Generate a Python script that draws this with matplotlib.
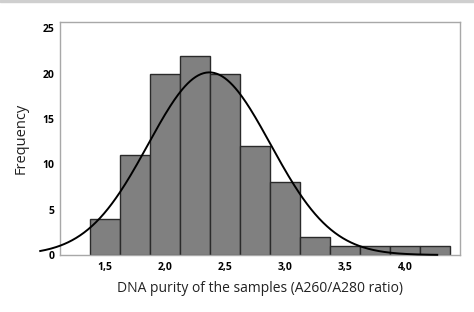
import numpy as np
import matplotlib.pyplot as plt
import matplotlib.patches as mpatches

# histogram of DNA purity (A260/A280)
bin_edges = [1.375, 1.625, 1.875, 2.125, 2.375, 2.625, 2.875, 3.125, 3.375, 3.625, 3.875, 4.125, 4.375]
counts = [4, 11, 20, 22, 20, 12, 8, 2, 1, 1, 1, 1]
x_ticks = [1.5, 2.0, 2.5, 3.0, 3.5, 4.0]
x_tick_labels = ['1,5', '2,0', '2,5', '3,0', '3,5', '4,0']
y_ticks = [0, 5, 10, 15, 20, 25]

# fitted normal curve parameters
fit_mean = 2.37
fit_sd = 0.51
curve_range = (0.96, 4.27)

plt.rcParams['font.family'] = ['Open Sans', 'DejaVu Sans']

fig = plt.figure(figsize=(4.74, 3.12), dpi=100)
ax = fig.add_axes([0.1266, 0.1827, 0.8439, 0.7468])

widths = np.diff(bin_edges)
ax.bar(bin_edges[:-1], counts, width=widths, align='edge',
       color='#808080', edgecolor='#2a2a2a', linewidth=1.0, zorder=2)

n = sum(counts)
bw = widths[0]
xs = np.linspace(curve_range[0], curve_range[1], 300)
ys = n * bw / (fit_sd * np.sqrt(2 * np.pi)) * np.exp(-0.5 * ((xs - fit_mean) / fit_sd) ** 2)
ax.plot(xs, ys, color='black', linewidth=1.4, clip_on=False, zorder=3)

ax.set_xlim(1.125, 4.46)
ax.set_ylim(0, 25.7)
ax.set_xticks(x_ticks)
ax.set_xticklabels(x_tick_labels, fontsize=7.5, fontweight='bold')
ax.set_yticks(y_ticks)
ax.set_yticklabels([str(v) for v in y_ticks], fontsize=7.5, fontweight='bold')
ax.tick_params(axis='x', length=0, pad=5)
ax.tick_params(axis='y', length=0, pad=4)

for s in ax.spines.values():
    s.set_color('#a8a8a8')
    s.set_linewidth(1.0)

ax.set_xlabel('DNA purity of the samples (A260/A280 ratio)', fontsize=10, labelpad=6, color='#222222')
ax.set_ylabel('Frequency', fontsize=10.5, labelpad=10, color='#222222')

# thin grey band at the very top
fig.patches.append(mpatches.Rectangle((0, 0.992), 1, 0.008, transform=fig.transFigure,
                                      color='#cfcfcf', zorder=0))

fig.savefig('out.png', dpi=100)
